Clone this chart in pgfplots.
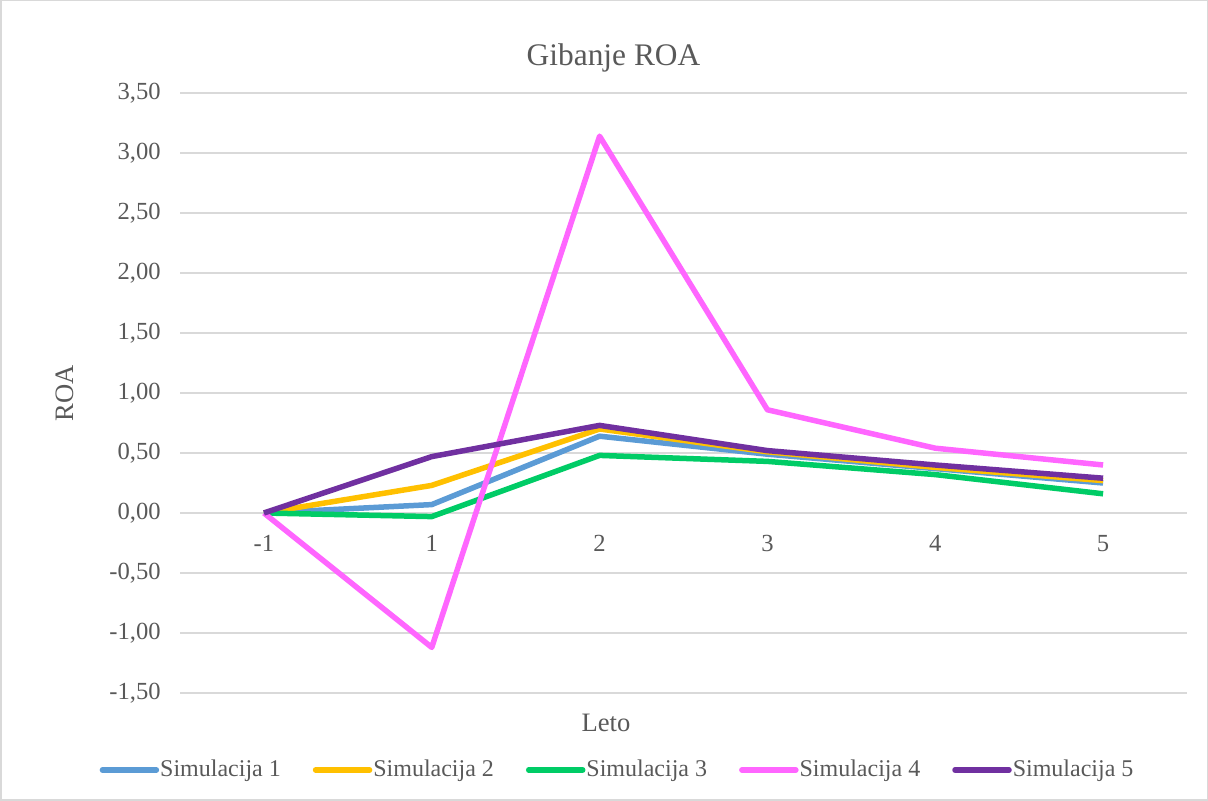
\documentclass[border=0pt]{standalone}
\usepackage{fontspec}
\setmainfont{Liberation Serif}
\usepackage{pgfplots}
\pgfplotsset{compat=1.18}

\definecolor{labelgray}{HTML}{595959}
\definecolor{gridgray}{HTML}{D9D9D9}
\definecolor{simA}{HTML}{5B9BD5}
\definecolor{simB}{HTML}{FFC000}
\definecolor{simC}{HTML}{00CC66}
\definecolor{simD}{HTML}{FF66FF}
\definecolor{simE}{HTML}{7030A0}

\begin{document}
\begin{tikzpicture}
% chart frame
\draw[gridgray, line width=0.75pt] (0.375pt,0.375pt) rectangle (603.625pt,400.125pt);
\begin{axis}[
  at={(90pt,54pt)}, anchor=south west,
  scale only axis, width=503.5pt, height=300pt,
  xmin=-0.5, xmax=5.5, ymin=-1.5, ymax=3.5,
  xtick={0,1,2,3,4,5}, xticklabels={-1,1,2,3,4,5},
  ytick={-1.5,-1,-0.5,0,0.5,1,1.5,2,2.5,3,3.5},
  ymajorgrids, grid style={gridgray, line width=0.75pt},
  axis line style={draw=none}, major tick length=0pt,
  tick label style={font=\fontsize{12.3}{14}\selectfont, text=labelgray},
  xticklabel style={inner sep=0pt, anchor=north, yshift=79pt},
  yticklabel style={inner sep=0pt, anchor=east, xshift=-9.5pt,
    /pgf/number format/fixed, /pgf/number format/fixed zerofill,
    /pgf/number format/precision=2, /pgf/number format/use comma,
    /pgf/number format/assume math mode=true},
  legend columns=5,
  legend style={at={(0.4335,-0.1283)}, anchor=center, draw=none, fill=none,
    font=\fontsize{12}{14}\selectfont, text=labelgray,
    nodes={inner sep=0pt},
    /tikz/every odd column/.append style={column sep=0.5pt},
    /tikz/every even column/.append style={column sep=16pt}},
  legend image code/.code={\draw[line width=2.75pt, line cap=round] (0pt,0pt) -- (27pt,0pt);},
  every axis plot/.append style={line width=2.75pt, line join=round, no markers},
]
\addplot[simA] coordinates {(0,0) (1,0.07) (2,0.64) (3,0.49) (4,0.37) (5,0.25)};
\addlegendentry{Simulacija 1}
\addplot[simB] coordinates {(0,0) (1,0.23) (2,0.70) (3,0.51) (4,0.38) (5,0.27)};
\addlegendentry{Simulacija 2}
\addplot[simC] coordinates {(0,0) (1,-0.03) (2,0.48) (3,0.43) (4,0.32) (5,0.16)};
\addlegendentry{Simulacija 3}
\addplot[simD] coordinates {(0,0) (1,-1.12) (2,3.14) (3,0.86) (4,0.54) (5,0.40)};
\addlegendentry{Simulacija 4}
\addplot[simE] coordinates {(0,0) (1,0.47) (2,0.73) (3,0.52) (4,0.40) (5,0.29)};
\addlegendentry{Simulacija 5}
\end{axis}
% title and axis titles
\node[anchor=base, text=labelgray, font=\fontsize{15.7}{18}\selectfont] at (306.75pt,367.5pt) {Gibanje ROA};
\node[anchor=base, text=labelgray, font=\fontsize{13.3}{16}\selectfont] at (303pt,34.5pt) {Leto};
\node[anchor=base, rotate=90, text=labelgray, font=\fontsize{13.3}{16}\selectfont] at (36.5pt,204pt) {ROA};
\end{tikzpicture}
\end{document}
